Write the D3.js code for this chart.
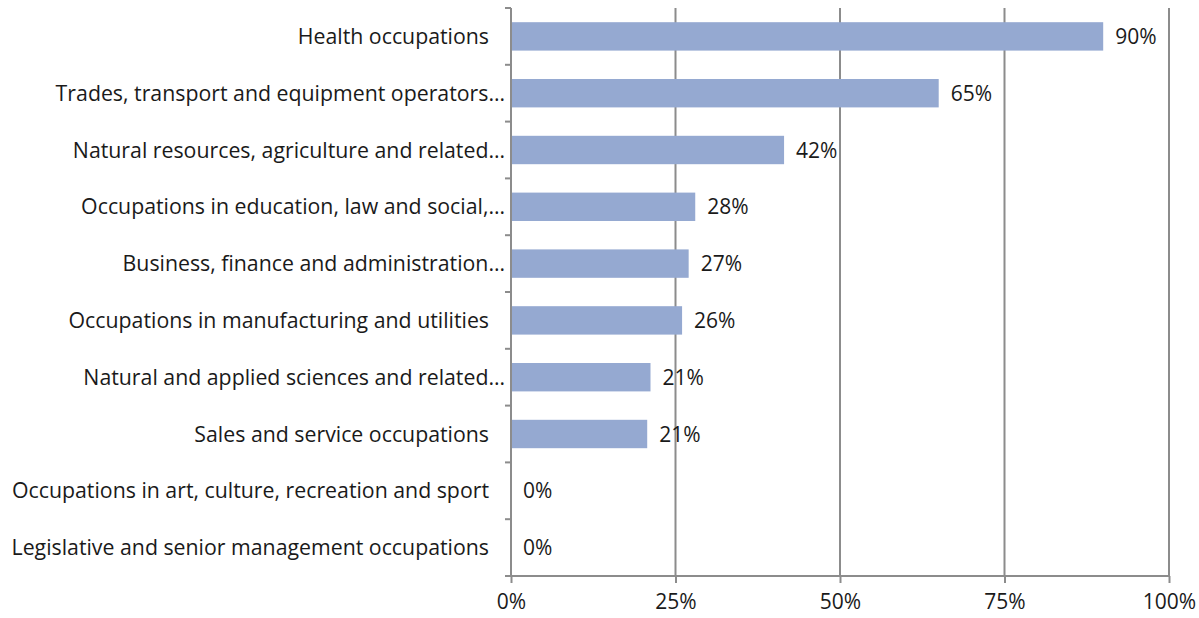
<!DOCTYPE html>
<html>
<head>
<meta charset="utf-8">
<script src="https://cdn.jsdelivr.net/npm/d3@7"></script>
<style>
  body { margin: 0; background: #fff; }
  text { font-family: "Open Sans", "Noto Sans", sans-serif; fill: #1a1a1a; }
</style>
</head>
<body>
<div id="chart"><svg></svg></div>
<script>
const categories = [
  'Health occupations',
  'Trades, transport and equipment operators…',
  'Natural resources, agriculture and related…',
  'Occupations in education, law and social,…',
  'Business, finance and administration…',
  'Occupations in manufacturing and utilities',
  'Natural and applied sciences and related…',
  'Sales and service occupations',
  'Occupations in art, culture, recreation and sport',
  'Legislative and senior management occupations'
];
const values = [0.90, 0.65, 0.415, 0.28, 0.27, 0.26, 0.212, 0.207, 0, 0];
const valueLabels = ['90%', '65%', '42%', '28%', '27%', '26%', '21%', '21%', '0%', '0%'];
const xTicks = [0, 0.25, 0.5, 0.75, 1];

const margin = {top: 8, right: 30, bottom: 42, left: 511};
const width = 1199 - margin.left - margin.right;
const height = 618 - margin.top - margin.bottom;

const svg = d3.select('svg')
  .attr('width', 1199)
  .attr('height', 618)
  .append('g')
    .attr('transform', 'translate(' + margin.left + ',' + margin.top + ')');

const x = d3.scaleLinear().domain([0, 1]).range([0, width]);
const y = d3.scaleBand().domain(categories).range([0, height]).paddingInner(0.5).paddingOuter(0.25);

// vertical gridlines
svg.selectAll('.grid')
  .data(xTicks.slice(1))
  .enter().append('line')
    .attr('x1', d => x(d)).attr('x2', d => x(d))
    .attr('y1', 0).attr('y2', height)
    .attr('stroke', '#8c8c8c').attr('stroke-width', 2);

// bars
svg.selectAll('.bar')
  .data(values)
  .enter().append('rect')
    .attr('x', 0)
    .attr('y', (d, i) => y(categories[i]))
    .attr('width', d => x(d))
    .attr('height', y.bandwidth())
    .attr('fill', '#95a9d1');

// value labels
svg.selectAll('.val')
  .data(values)
  .enter().append('text')
    .attr('x', d => x(d) + 12)
    .attr('y', (d, i) => y(categories[i]) + y.bandwidth() / 2)
    .attr('dy', '0.36em')
    .style('font-size', '21px')
    .text((d, i) => valueLabels[i]);

// y axis: line + ticks at band edges
const edges = d3.range(categories.length + 1).map(i => i * height / categories.length);
svg.append('line')
  .attr('x1', 0).attr('x2', 0).attr('y1', 0).attr('y2', height)
  .attr('stroke', '#8c8c8c').attr('stroke-width', 2);
svg.selectAll('.ytick')
  .data(edges)
  .enter().append('line')
    .attr('x1', -6).attr('x2', 0)
    .attr('y1', d => d).attr('y2', d => d)
    .attr('stroke', '#8c8c8c').attr('stroke-width', 2);

// category labels
svg.selectAll('.cat')
  .data(categories)
  .enter().append('text')
    .attr('x', d => d.endsWith('…') ? -6 : -22)
    .attr('y', d => y(d) + y.bandwidth() / 2)
    .attr('dy', '0.36em')
    .attr('text-anchor', 'end')
    .style('font-size', '21.3px')
    .text(d => d);

// x axis
const xAxis = svg.append('g')
  .attr('transform', 'translate(0,' + height + ')')
  .call(d3.axisBottom(x).tickValues(xTicks).tickFormat(d3.format('.0%')).tickSize(7).tickPadding(11));
xAxis.select('.domain').attr('stroke', '#8c8c8c').attr('stroke-width', 2).attr('d', 'M-6,0H' + width);
xAxis.selectAll('.tick line').attr('stroke', '#8c8c8c').attr('stroke-width', 2);
xAxis.selectAll('.tick text').style('font-size', '21px').attr('fill', '#1a1a1a').style('font-family', '"Open Sans", sans-serif');
</script>
</body>
</html>
